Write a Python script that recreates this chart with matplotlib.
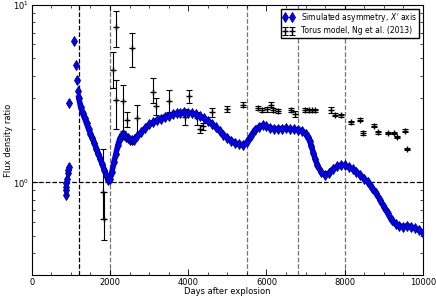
import numpy as np
import matplotlib
matplotlib.use('Agg')
import matplotlib.pyplot as plt
from matplotlib.ticker import MultipleLocator

# simulated asymmetry, X' axis (days, ratio)
sim_days = [1200, 1250, 1300, 1350, 1400, 1450, 1500, 1550, 1600, 1650,
            1700, 1750, 1800, 1850, 1900, 1950, 2000, 2050, 2100, 2150,
            2200, 2250, 2300, 2350, 2400, 2450, 2500, 2550, 2600, 2700,
            2800, 2900, 3000, 3100, 3200, 3300, 3400, 3500, 3600, 3700,
            3800, 3900, 4000, 4100, 4200, 4300, 4400, 4500, 4600, 4700,
            4800, 4900, 5000, 5100, 5200, 5300, 5400, 5500, 5600, 5700,
            5800, 5900, 6000, 6100, 6200, 6300, 6400, 6500, 6600, 6700,
            6800, 6900, 7000, 7050, 7100, 7150, 7200, 7250, 7300, 7400,
            7500, 7600, 7700, 7800, 7900, 8000, 8100, 8200, 8300, 8400,
            8500, 8600, 8700, 8800, 8900, 9000, 9100, 9200, 9300, 9400,
            9500, 9600, 9700, 9800, 9900, 10000]
sim_ratio = [3.0, 2.65, 2.45, 2.3, 2.15, 2.0, 1.88, 1.78, 1.66, 1.55,
             1.45, 1.36, 1.27, 1.18, 1.10, 1.03, 1.05, 1.15, 1.30, 1.45,
             1.62, 1.76, 1.85, 1.85, 1.80, 1.77, 1.74, 1.73, 1.74, 1.82,
             1.92, 2.02, 2.12, 2.18, 2.24, 2.29, 2.34, 2.38, 2.42, 2.45,
             2.47, 2.48, 2.47, 2.45, 2.42, 2.36, 2.30, 2.22, 2.14, 2.04,
             1.95, 1.86, 1.78, 1.72, 1.67, 1.64, 1.63, 1.68, 1.82, 1.97,
             2.05, 2.10, 2.07, 2.03, 2.00, 2.01, 2.01, 2.02, 2.00, 1.99,
             1.98, 1.96, 1.88, 1.80, 1.72, 1.60, 1.46, 1.35, 1.25, 1.14,
             1.10, 1.13, 1.19, 1.23, 1.25, 1.25, 1.22, 1.19, 1.15, 1.10,
             1.05, 1.00, 0.93, 0.87, 0.80, 0.73, 0.67, 0.61, 0.58, 0.57,
             0.56, 0.57, 0.56, 0.55, 0.54, 0.52]
# early scattered simulation points
early_days = [864, 864, 870, 880, 889, 915, 935, 957, 957, 1085, 1120, 1146, 1171]
early_ratio = [0.85, 0.90, 0.94, 0.99, 1.05, 1.13, 1.17, 1.22, 2.81, 6.23, 4.62, 3.76, 3.26]

# torus model, Ng et al. (2013)
ng_days = [1828, 1840, 2069, 2146, 2146, 2325, 2427, 2556, 2684, 3111, 3179,
           3496, 3923, 4008, 4222, 4308, 4376, 4607, 4992, 5393, 5778,
           5897, 6017, 6128, 6171, 6290, 6615, 6718, 6974, 7080, 7160,
           7250, 7641, 7744, 7915, 8154, 8392, 8462, 8752, 8854, 9110,
           9265, 9350, 9538, 9590]
ng_ratio = [0.88, 0.62, 4.3, 7.55, 2.9, 2.86, 2.26, 5.73, 2.31, 3.24, 2.68,
            2.86, 2.35, 3.06, 2.3, 2.0, 2.07, 2.48, 2.59, 2.74, 2.62,
            2.55, 2.58, 2.74, 2.55, 2.52, 2.55, 2.43, 2.55, 2.55, 2.55,
            2.55, 2.55, 2.41, 2.39, 2.18, 2.26, 1.90, 2.09, 1.92, 1.90,
            1.90, 1.80, 1.96, 1.54]
ng_lo = [0.62, 0.47, 3.4, 5.8, 2.0, 1.94, 2.05, 4.46, 1.88, 2.8, 2.4,
         2.5, 2.1, 2.8, 2.1, 1.9, 1.98, 2.35, 2.5, 2.65, 2.55,
         2.48, 2.5, 2.65, 2.48, 2.45, 2.48, 2.35, 2.48, 2.5, 2.5,
         2.5, 2.45, 2.36, 2.35, 2.13, 2.21, 1.86, 2.04, 1.88, 1.87,
         1.87, 1.77, 1.92, 1.52]
ng_hi = [1.54, 0.88, 5.4, 9.2, 3.8, 3.56, 2.5, 7.0, 2.74, 3.88, 3.0,
         3.3, 2.6, 3.3, 2.5, 2.1, 2.16, 2.62, 2.68, 2.84, 2.7,
         2.62, 2.66, 2.84, 2.62, 2.6, 2.62, 2.52, 2.62, 2.6, 2.6,
         2.6, 2.65, 2.46, 2.43, 2.23, 2.31, 1.94, 2.14, 1.96, 1.93,
         1.93, 1.83, 2.0, 1.56]

plt.rcParams['font.size'] = 6
plt.rcParams['xtick.direction'] = 'in'
plt.rcParams['ytick.direction'] = 'in'
plt.rcParams['xtick.top'] = True
plt.rcParams['ytick.right'] = True

fig = plt.figure(figsize=(4.36, 2.97), dpi=100)
ax = fig.add_axes([0.073, 0.074, 0.897, 0.909])

ng_err = [np.array(ng_ratio) - np.array(ng_lo), np.array(ng_hi) - np.array(ng_ratio)]
ax.errorbar(ng_days, ng_ratio, yerr=ng_err, fmt='+', color='black', ms=4,
            elinewidth=0.8, capsize=2, capthick=0.8, zorder=2,
            label='Torus model, Ng et al. (2013)')

ax.plot(sim_days, sim_ratio, '-', color='blue', lw=4, zorder=3)
ax.plot(sim_days + early_days, sim_ratio + early_ratio, 'd', color='blue',
        mec='navy', mew=0.6, ms=5, zorder=4,
        label="Simulated asymmetry, $X'$ axis")

ax.axhline(1.0, color='black', ls='--', lw=0.9, zorder=1)
ax.axvline(1200, color='black', ls='--', lw=0.9, zorder=1)
for d in [2000, 5500, 6800, 8000]:
    ax.axvline(d, color='0.45', ls='--', lw=0.9, zorder=1)

ax.set_yscale('log')
ax.set_ylim(0.3, 10)
ax.set_xlim(0, 10000)
ax.xaxis.set_major_locator(MultipleLocator(2000))
ax.xaxis.set_minor_locator(MultipleLocator(500))
ax.tick_params(which='major', length=4, width=0.6)
ax.tick_params(which='minor', length=2, width=0.5)
ax.tick_params(axis='x', pad=2)
ax.tick_params(axis='y', pad=2)
ax.set_xlabel('Days after explosion', fontsize=6, labelpad=0)
ax.set_ylabel('Flux density ratio', fontsize=6, labelpad=0)

h, l = ax.get_legend_handles_labels()
ax.legend(h, l, loc='upper right', numpoints=2, fontsize=5.5,
          fancybox=False, edgecolor='black', framealpha=1,
          borderpad=0.3, handlelength=1.5, labelspacing=0.3)

fig.savefig('out.png', dpi=100)
